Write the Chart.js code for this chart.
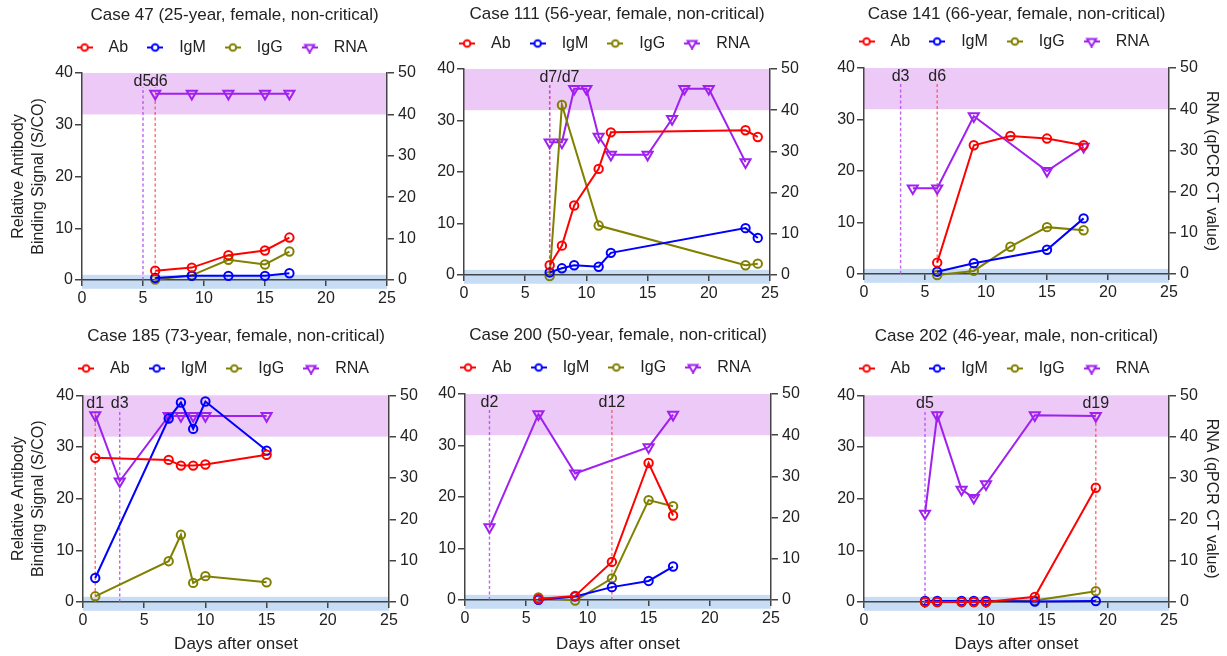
<!doctype html>
<html lang="en">
  <head>
    <meta charset="UTF-8" />
    <title>Antibody and viral RNA time courses</title>
    <script src="https://cdn.jsdelivr.net/npm/chart.js"></script>
    <style>
      body { margin: 0; background: #fff; }
      #wrap { position: relative; width: 1227px; height: 656px; overflow: hidden; }
      #wrap canvas { position: absolute; }
    </style>
  </head>
  <body>
    <div id="wrap"></div>

    <script>
      // shared axis data
      const seriesNames = ["Ab", "IgM", "IgG", "RNA"];
      const xTicks = [0, 5, 10, 15, 20, 25];
      const xTicks202 = [0, 10, 15, 20, 25]; // "5" is not printed on case 202
      const cutoffBand = [-1.7, 1]; // S/CO, left axis
      const ctNegativeBand = [40, 50]; // CT value, right axis

      // Case 47
      const days47 = [6, 9, 12, 15, 17];
      const ab47 = [1.8, 2.4, 4.8, 5.7, 8.2];
      const igm47 = [0.4, 0.8, 0.8, 0.8, 1.3];
      const igg47 = [0.1, 0.9, 3.9, 3.0, 5.5];
      const rna47 = [45, 45, 45, 45, 45];
      const markDays47 = [5, 6];
      const markKinds47 = ["rna", "ab"];
      const labelText47 = ["d5", "d6"];
      const labelAt47 = [4.95, 6.3];

      // Case 111
      const abDays111 = [7, 8, 9, 11, 12, 23, 24];
      const ab111 = [1.9, 5.7, 13.5, 20.6, 27.7, 28.1, 26.8];
      const igm111 = [0.5, 1.3, 1.9, 1.6, 4.3, 9.1, 7.2];
      const iggDays111 = [7, 8, 11, 23, 24];
      const igg111 = [-0.2, 33.0, 9.6, 1.9, 2.2];
      const rnaDays111 = [7, 8, 9, 10, 11, 12, 15, 17, 18, 20, 23];
      const rna111 = [32.2, 32.2, 45.2, 45.2, 33.6, 29.2, 29.2, 37.9, 45.2, 45.2, 27.4];
      const markDays111 = [7, 7];
      const markKinds111 = ["rna", "ab"];
      const labelText111 = ["d7/d7"];
      const labelAt111 = [7.8];

      // Case 141
      const abDays141 = [6, 9, 12, 15, 18];
      const ab141 = [2.2, 25.0, 26.8, 26.3, 25.0];
      const igmDays141 = [6, 9, 15, 18];
      const igm141 = [0.45, 2.1, 4.7, 10.8];
      const igg141 = [-0.2, 0.6, 5.3, 9.1, 8.5];
      const rnaDays141 = [4, 6, 9, 15, 18];
      const rna141 = [20.8, 20.8, 38.3, 25.0, 30.9];
      const markDays141 = [3, 6];
      const markKinds141 = ["rna", "ab"];
      const labelText141 = ["d3", "d6"];
      const labelAt141 = [3, 6];

      // Case 185
      const days185 = [1, 7, 8, 9, 10, 15];
      const ab185 = [27.9, 27.5, 26.4, 26.4, 26.6, 28.5];
      const igm185 = [4.65, 35.5, 38.6, 33.5, 38.8, 29.3];
      const igg185 = [1.1, 7.9, 13.0, 3.7, 5.0, 3.8];
      const rnaDays185 = [1, 3, 7, 8, 9, 10, 15];
      const rna185 = [45.2, 29.2, 45, 45, 45, 45, 45];
      const markDays185 = [1, 3];
      const markKinds185 = ["ab", "rna"];
      const labelText185 = ["d1", "d3"];
      const labelAt185 = [1, 3];

      // Case 200
      const days200 = [6, 9, 12, 15, 17];
      const ab200 = [0.2, 0.8, 7.4, 26.6, 16.4];
      const igm200 = [0.05, 0.7, 2.5, 3.7, 6.5];
      const igg200 = [0.5, -0.1, 4.2, 19.4, 18.2];
      const rnaDays200 = [2, 6, 9, 15, 17];
      const rna200 = [17.7, 45.1, 30.7, 37.1, 45.0];
      const markDays200 = [2, 12];
      const markKinds200 = ["rna", "ab"];
      const labelText200 = ["d2", "d12"];
      const labelAt200 = [2, 12];

      // Case 202
      const days202 = [5, 6, 8, 9, 10, 14, 19];
      const ab202 = [0, 0, 0, 0, 0, 1.0, 22.1];
      const igm202 = [0.2, 0.2, 0.2, 0.2, 0.2, 0.1, 0.2];
      const igg202 = [0, 0, 0, 0, 0, 0.3, 2.1];
      const rna202 = [21.4, 45.2, 27.2, 25.2, 28.5, 45.2, 45.0];
      const markDays202 = [5, 19];
      const markKinds202 = ["rna", "ab"];
      const labelText202 = ["d5", "d19"];
      const labelAt202 = [5, 19];

      const FONT = "'Liberation Sans', Arial, Helvetica, sans-serif";
      Chart.defaults.font.family = FONT;
      Chart.defaults.color = "#222";

      const colors = { ab: "#ff0000", igm: "#0000ff", igg: "#808000", rna: "#a020f0" };
      const markColors = { ab: "rgba(255, 70, 70, 0.8)", rna: "rgba(180, 70, 240, 0.85)" };
      const axisColor = "#444";

      // panel data + where each panel sits on the page
      const panels = [
        {
          title: "Case 47 (25-year, female, non-critical)",
          ab: [days47, ab47], igm: [days47, igm47], igg: [days47, igg47], rna: [days47, rna47],
          marks: [markDays47, markKinds47], labels: [labelText47, labelAt47], ticks: xTicks,
          box: [0, 0, 436, 320], leftW: 82, rightW: 49, xH: 40, titlePad: [7, 4.5], spacer: 7.5,
          yTitle: true, y2Title: false, xTitle: false,
        },
        {
          title: "Case 111 (56-year, female, non-critical)",
          ab: [abDays111, ab111], igm: [abDays111, igm111], igg: [iggDays111, igg111], rna: [rnaDays111, rna111],
          marks: [markDays111, markKinds111], labels: [labelText111, labelAt111], ticks: xTicks,
          box: [397, 0, 407, 320], leftW: 67, rightW: 34, xH: 45, titlePad: [6, 1.5], spacer: 7.5,
          yTitle: false, y2Title: false, xTitle: false,
        },
        {
          title: "Case 141 (66-year, female, non-critical)",
          ab: [abDays141, ab141], igm: [igmDays141, igm141], igg: [abDays141, igg141], rna: [rnaDays141, rna141],
          marks: [markDays141, markKinds141], labels: [labelText141, labelAt141], ticks: xTicks,
          box: [773, 0, 454, 320], leftW: 91, rightW: 58, xH: 46, titlePad: [5.5, 0], spacer: 8.5,
          yTitle: false, y2Title: true, xTitle: false,
        },
        {
          title: "Case 185 (73-year, female, non-critical)",
          ab: [days185, ab185], igm: [days185, igm185], igg: [days185, igg185], rna: [rnaDays185, rna185],
          marks: [markDays185, markKinds185], labels: [labelText185, labelAt185], ticks: xTicks,
          box: [0, 320, 439, 336], leftW: 83, rightW: 50, xH: 54, titlePad: [8, 4.5], spacer: 8.8,
          yTitle: true, y2Title: false, xTitle: true,
        },
        {
          title: "Case 200 (50-year, female, non-critical)",
          ab: [days200, ab200], igm: [days200, igm200], igg: [days200, igg200], rna: [rnaDays200, rna200],
          marks: [markDays200, markKinds200], labels: [labelText200, labelAt200], ticks: xTicks,
          box: [398, 320, 407, 336], leftW: 67, rightW: 34, xH: 56, titlePad: [6.5, 5], spacer: 8.5,
          yTitle: false, y2Title: false, xTitle: true,
        },
        {
          title: "Case 202 (46-year, male, non-critical)",
          ab: [days202, ab202], igm: [days202, igm202], igg: [days202, igg202], rna: [days202, rna202],
          marks: [markDays202, markKinds202], labels: [labelText202, labelAt202], ticks: xTicks202,
          box: [773, 320, 454, 336], leftW: 91, rightW: 58, xH: 54, titlePad: [7.5, 5], spacer: 8.8,
          yTitle: false, y2Title: true, xTitle: true,
        },
      ];

      // small "line + marker" pictures for the legend
      function legendIcon(color, shape) {
        const c = document.createElement("canvas");
        c.width = 16;
        c.height = 12;
        const g = c.getContext("2d");
        g.strokeStyle = color;
        g.lineWidth = 2;
        g.beginPath();
        g.moveTo(0, 6);
        g.lineTo(16, 6);
        g.stroke();
        g.fillStyle = "#fff";
        g.beginPath();
        if (shape === "circle") {
          g.arc(8, 6, 3.3, 0, Math.PI * 2);
        } else {
          g.moveTo(3.5, 3.4);
          g.lineTo(12.5, 3.4);
          g.lineTo(8, 11);
          g.closePath();
        }
        g.fill();
        g.stroke();
        return c;
      }
      const icons = [
        legendIcon(colors.ab, "circle"),
        legendIcon(colors.igm, "circle"),
        legendIcon(colors.igg, "circle"),
        legendIcon(colors.rna, "triangle"),
      ];

      function series(label, pair, color, axis, shape) {
        const [days, values] = pair;
        return {
          label: label,
          data: days.map((d, i) => ({ x: d, y: values[i] })),
          yAxisID: axis,
          borderColor: color,
          backgroundColor: "rgba(0,0,0,0)",
          borderWidth: 2,
          pointStyle: shape,
          pointRotation: shape === "triangle" ? 180 : 0,
          pointRadius: shape === "triangle" ? 5.8 : 4.2,
          pointBorderWidth: 2,
          pointBorderColor: color,
          pointBackgroundColor: "rgba(0,0,0,0)",
          tension: 0,
          clip: false,
        };
      }

      // shaded reference bands, drawn before the axes
      const bandPlugin = {
        id: "bands",
        beforeDraw(chart) {
          const { ctx, scales } = chart;
          const x0 = scales.x.getPixelForValue(0);
          const x1 = scales.x.getPixelForValue(25);
          ctx.save();
          ctx.fillStyle = "#ecc9f6";
          let t = scales.y2.getPixelForValue(ctNegativeBand[1]);
          let b = scales.y2.getPixelForValue(ctNegativeBand[0]);
          ctx.fillRect(x0, t, x1 - x0, b - t);
          ctx.fillStyle = "#c7dcf5";
          t = scales.y.getPixelForValue(cutoffBand[1]);
          b = scales.y.getPixelForValue(cutoffBand[0]);
          ctx.fillRect(x0, t, x1 - x0, b - t);
          ctx.restore();
        },
      };

      function dayLabelPlugin(texts, at) {
        return {
          id: "dayLabels",
          afterDatasetsDraw(chart) {
            const { ctx, scales } = chart;
            ctx.save();
            ctx.font = "16px " + FONT;
            ctx.fillStyle = "#222";
            ctx.textAlign = "center";
            ctx.textBaseline = "middle";
            texts.forEach((t, i) => {
              ctx.fillText(t, scales.x.getPixelForValue(at[i]), scales.y.getPixelForValue(38.3));
            });
            ctx.restore();
          },
        };
      }

      function tickGrid(len) {
        return {
          display: true,
          drawOnChartArea: false,
          drawTicks: true,
          tickLength: len,
          color: axisColor,
          lineWidth: 1.5,
        };
      }
      const border = { display: true, color: axisColor, width: 1.5 };

      function buildPanel(p) {
        const canvas = document.createElement("canvas");
        const [left, top, w, h] = p.box;
        canvas.width = w;
        canvas.height = h;
        canvas.style.left = left + "px";
        canvas.style.top = top + "px";
        document.getElementById("wrap").appendChild(canvas);

        const datasets = [
          series("Ab", p.ab, colors.ab, "y", "circle"),
          series("IgM", p.igm, colors.igm, "y", "circle"),
          series("IgG", p.igg, colors.igg, "y", "circle"),
          series("RNA", p.rna, colors.rna, "y2", "triangle"),
        ];
        // dotted day markers (drawn underneath the series)
        const [markDays, markKinds] = p.marks;
        markDays.forEach((d, i) => {
          datasets.push({
            label: "mark",
            data: [{ x: d, y: 0 }, { x: d, y: 37.3 }],
            yAxisID: "y",
            borderColor: markColors[markKinds[i]],
            borderDash: [3, 2.5],
            borderWidth: 1.4,
            pointRadius: 0,
            clip: false,
          });
        });

        new Chart(canvas, {
          type: "line",
          data: { datasets: datasets },
          options: {
            responsive: false,
            animation: false,
            events: [],
            layout: { padding: 0 },
            scales: {
              x: {
                type: "linear",
                min: 0,
                max: 25,
                afterFit: (s) => { s.height = p.xH; },
                ticks: {
                  stepSize: 5,
                  padding: 3,
                  maxRotation: 0,
                  autoSkip: false,
                  font: { size: 16 },
                  callback: (v) => (p.ticks.includes(v) ? String(v) : ""),
                },
                grid: tickGrid(6),
                border: border,
                title: {
                  display: p.xTitle,
                  text: "Days after onset",
                  font: { size: 17, lineHeight: 1.2 },
                  padding: { top: 0, bottom: 1 },
                },
              },
              y: {
                position: "left",
                min: 0,
                max: 40,
                afterFit: (s) => { s.width = p.leftW; },
                ticks: { stepSize: 10, padding: 2, font: { size: 16 } },
                grid: tickGrid(7),
                border: border,
                title: {
                  display: p.yTitle,
                  text: ["Relative Antibody", "Binding Signal (S/CO)"],
                  font: { size: 16, lineHeight: 1.25 },
                  padding: { top: 8.5, bottom: 0 },
                },
              },
              y2: {
                position: "right",
                min: 0,
                max: 50,
                afterFit: (s) => { s.width = p.rightW; },
                ticks: { stepSize: 10, padding: 4, font: { size: 16 } },
                grid: tickGrid(7),
                border: border,
                title: {
                  display: p.y2Title,
                  text: "RNA (qPCR CT value)",
                  font: { size: 16, lineHeight: 1.25 },
                  padding: { top: 6, bottom: 0 },
                },
              },
            },
            plugins: {
              title: {
                display: true,
                text: p.title,
                fullSize: false,
                color: "#222",
                font: { size: 17, weight: "normal", lineHeight: 1 },
                padding: { top: p.titlePad[0], bottom: p.titlePad[1] },
              },
              // empty subtitle used as a gap between legend and plot
              subtitle: {
                display: true,
                text: "",
                weight: 500,
                padding: 0,
                font: { size: 1, lineHeight: p.spacer + "px" },
              },
              legend: {
                display: true,
                position: "top",
                fullSize: true,
                labels: {
                  usePointStyle: true,
                  pointStyleWidth: 32,
                  padding: 11,
                  font: { size: 16 },
                  generateLabels: () =>
                    seriesNames.map((name, i) => ({
                      text: name,
                      pointStyle: icons[i],
                      fillStyle: "rgba(0,0,0,0)",
                      strokeStyle: "rgba(0,0,0,0)",
                      lineWidth: 0,
                      fontColor: "#222",
                      hidden: false,
                      datasetIndex: i,
                    })),
                },
              },
              tooltip: { enabled: false },
            },
          },
          plugins: [bandPlugin, dayLabelPlugin(p.labels[0], p.labels[1])],
        });
      }

      panels.forEach(buildPanel);
    </script>
  </body>
</html>
